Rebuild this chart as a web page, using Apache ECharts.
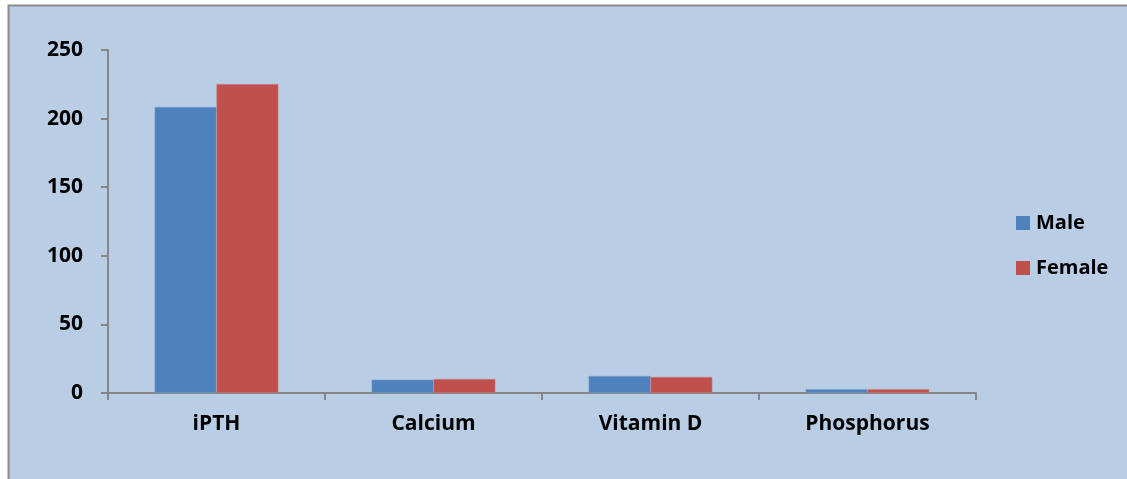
<!DOCTYPE html>
<html>
<head>
<meta charset="utf-8">
<script src="https://cdn.jsdelivr.net/npm/echarts@6/dist/echarts.min.js"></script>
<style>
html,body{margin:0;padding:0;background:#fff;}
#c{width:1127px;height:479px;}
</style>
</head>
<body>
<div id="c"></div>
<script>
const categories = ['iPTH', 'Calcium', 'Vitamin D', 'Phosphorus'];
const maleValues = [208.5, 9.7, 12.4, 2.8];
const femaleValues = [225.2, 10.2, 11.7, 2.7];
const seriesNames = ['Male', 'Female'];
const yTicks = [0, 50, 100, 150, 200, 250];

const FONT = '"Open Sans", "Noto Sans", sans-serif';
const chart = echarts.init(document.getElementById('c'), null, {renderer: 'canvas'});
chart.setOption({
  backgroundColor: '#ffffff',
  animation: false,
  graphic: [{
    type: 'rect',
    z: -10,
    silent: true,
    shape: {x: 8.5, y: 5.5, width: 1300, height: 600},
    style: {fill: '#B9CDE5', stroke: '#8C8C8C', lineWidth: 2}
  }],
  legend: {
    orient: 'vertical',
    left: 1011,
    top: 208,
    itemWidth: 14,
    itemHeight: 14,
    itemGap: 25,
    icon: 'rect',
    itemStyle: {borderWidth: 0},
    textStyle: {fontFamily: FONT, fontWeight: 'bold', fontSize: 20, color: '#000', padding: [0, 0, 0, 1]},
    data: seriesNames
  },
  grid: {left: 108, right: 151, top: 50, bottom: 86, containLabel: false},
  xAxis: {
    type: 'category',
    data: categories,
    axisLine: {lineStyle: {color: '#868686', width: 2}},
    axisTick: {show: true, length: 7, lineStyle: {color: '#868686', width: 2}, alignWithLabel: false},
    axisLabel: {fontFamily: FONT, fontWeight: 'bold', fontSize: 21, color: '#000', margin: 21}
  },
  yAxis: {
    type: 'value',
    min: yTicks[0],
    max: yTicks[yTicks.length - 1],
    interval: 50,
    axisLine: {show: true, lineStyle: {color: '#868686', width: 2}},
    axisTick: {show: true, length: 7, lineStyle: {color: '#868686', width: 2}},
    splitLine: {show: false},
    axisLabel: {fontFamily: FONT, fontWeight: 'bold', fontSize: 21, color: '#000', margin: 25}
  },
  series: [
    {name: seriesNames[0], type: 'bar', data: maleValues, barGap: '0%', barCategoryGap: '43%',
     itemStyle: {color: '#4F81BD', borderColor: '#7F9FCB', borderWidth: 0.5}},
    {name: seriesNames[1], type: 'bar', data: femaleValues, barGap: '0%', barCategoryGap: '43%',
     itemStyle: {color: '#C0504D', borderColor: '#C98A8A', borderWidth: 0.5}}
  ]
});
</script>
</body>
</html>
